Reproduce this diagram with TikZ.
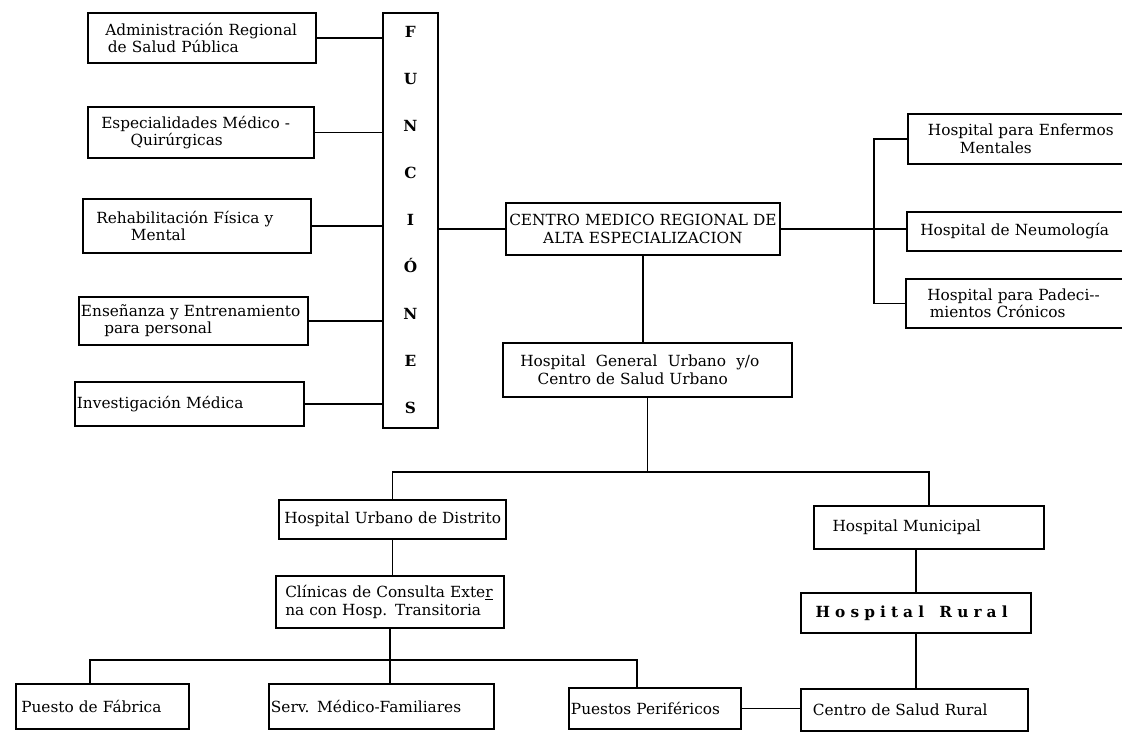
\documentclass[tikz,border=0pt]{standalone}
\usepackage{fontspec}
\setmainfont{DejaVu Serif}
\newcommand\bodyfont{\fontsize{11.5}{13}\selectfont}
\newcommand\tli[2]{\hspace*{#1}\mbox{#2}}
\begin{document}
\begin{tikzpicture}[x=0.75pt,y=-0.75pt,
  box/.style={draw, line width=1.4pt, inner sep=0pt, anchor=north west, align=left, font=\bodyfont},
  bx/.style 2 args={minimum width=#1, text width=#1, minimum height=#2},
  conn/.style={line width=1.1pt}]
\useasboundingbox (0,0) rectangle (1122,732);
% left column
\node[box, bx={171pt}{37.5pt}] (admin) at (87,12) {\tli{13pt}{Administración Regional}\\\tli{15pt}{de Salud Pública}};
\node[box, bx={169.5pt}{38.25pt}] (esp) at (87,106) {\tli{10pt}{Especialidades Médico -}\\\tli{32pt}{Quirúrgicas}};
\node[box, bx={171pt}{40.5pt}] (rehab) at (82,198) {\tli{10pt}{Rehabilitación Física y}\\\tli{36pt}{Mental}};
\node[box, bx={171.75pt}{36pt}] (ens) at (78,296) {\tli{1.5pt}{Enseñanza y Entrenamiento}\\\tli{19pt}{para personal}};
\node[box, bx={171.75pt}{33pt}] (inv) at (74,381) {\tli{1.5pt}{Investigación Médica}};
\node[box, bx={41.25pt}{311.25pt}, align=center, font={\fontsize{11.5}{35.25}\selectfont\bfseries}] (func) at (382,12) {F\\U\\N\\C\\I\\Ó\\N\\E\\S};
% centre
\node[box, bx={205.5pt}{39pt}, align=center] (centro) at (505,202) {\mbox{CENTRO MEDICO REGIONAL DE}\\\mbox{ALTA ESPECIALIZACION}};
% right column
\node[box, bx={167.25pt}{37.5pt}] (enf) at (907,113) {\tli{15pt}{Hospital para Enfermos}\\\tli{39pt}{Mentales}};
\node[box, bx={168pt}{29.25pt}] (neu) at (906,211) {\tli{10pt}{Hospital de Neumología}};
\node[box, bx={168.75pt}{36.75pt}] (pad) at (905,278) {\tli{16pt}{Hospital para Padeci-{}-}\\\tli{18pt}{mientos Crónicos}};
% lower part
\node[box, bx={216.75pt}{40.5pt}] (hgu) at (502,342) {\tli{13pt}{Hospital\ \ General\ \ Urbano\ \ y/o}\\\tli{26pt}{Centro de Salud Urbano}};
\node[box, bx={170.25pt}{29.25pt}] (dist) at (278,499) {\tli{4pt}{Hospital Urbano de Distrito}};
\node[box, bx={172.5pt}{32.25pt}] (muni) at (813,505) {\tli{14pt}{Hospital Municipal}};
\node[box, bx={171pt}{39pt}] (clin) at (275,575) {\tli{7pt}{Clínicas de Consulta Exte\underline{r}}\\\tli{7pt}{na con Hosp. Transitoria}};
\node[box, bx={172.5pt}{30pt}, font=\bodyfont\bfseries] (rural) at (800,592) {\tli{11pt}{H o s p i t a l \ \ R u r a l}};
\node[box, bx={129.75pt}{33.75pt}] (fab) at (15,683) {\tli{4pt}{Puesto de Fábrica}};
\node[box, bx={168.75pt}{33.75pt}] (serv) at (268,683) {\tli{1.5pt}{Serv. Médico-Familiares}};
\node[box, bx={129pt}{30.75pt}] (perif) at (568,687) {\tli{1.5pt}{Puestos Periféricos}};
\node[box, bx={170.25pt}{31.5pt}] (crural) at (800,688) {\tli{9pt}{Centro de Salud Rural}};
% helper coordinates
\coordinate (rbx) at (874,0);
\coordinate (hbar) at (0,472);
\coordinate (lbar) at (90,660);
\coordinate (rbar) at (637,660);
\coordinate (vr) at (916,0);
% connectors
\foreach \n in {admin,esp,rehab,ens,inv} \draw[conn] (\n.east) -- (\n.east -| func.west);
\draw[conn] (func.east |- centro.west) -- (centro.west);
\draw[conn] (centro.east) -- (centro.east -| neu.west);
\draw[conn] (enf.west) -- (enf.west -| rbx) -- (pad.west -| rbx) -- (pad.west);
\draw[conn] (centro.south) -- (centro.south |- hgu.north);
\draw[conn] (hgu.south) -- (hgu.south |- hbar);
\draw[conn] (dist.north) -- (dist.north |- hbar) -| (muni.north);
\draw[conn] (dist.south) -- (dist.south |- clin.north);
\draw[conn] (clin.south) -- (clin.south |- serv.north);
\draw[conn] (fab.north -| lbar) -- (lbar) -- (rbar) -- (perif.north -| rbar);
\draw[conn] (muni.south -| vr) -- (rural.north -| vr);
\draw[conn] (rural.south -| vr) -- (crural.north -| vr);
\draw[conn] (perif.east) -- (perif.east -| crural.west);
\end{tikzpicture}
\end{document}
